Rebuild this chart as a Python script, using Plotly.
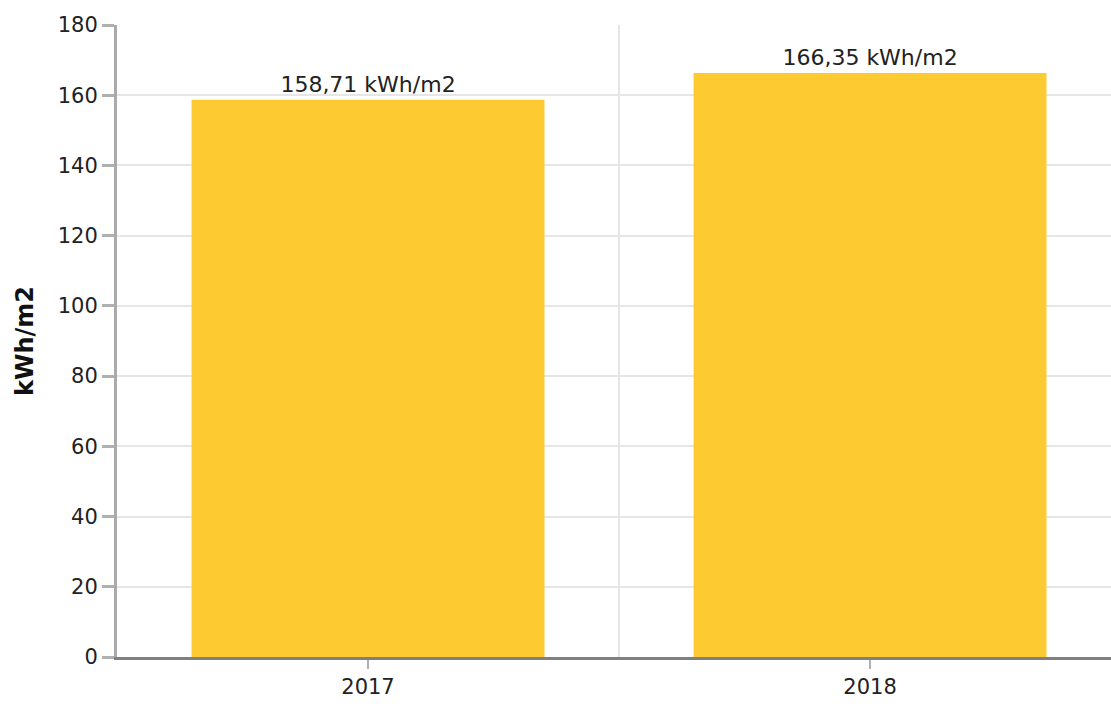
import plotly.graph_objects as go

# data
years = ["2017", "2018"]
consumption = [158.71, 166.35]
unit = "kWh/m2"

FONT = "Verdana, DejaVu Sans, sans-serif"

fig = go.Figure()

fig.add_trace(go.Bar(
    x=years,
    y=consumption,
    width=0.703,
    marker=dict(color="#fdca32", line=dict(width=0)),
    texttemplate="%{y:.2f} " + unit,
    textposition="outside",
    textfont=dict(family=FONT, size=22, color="#222222"),
    cliponaxis=False,
    showlegend=False,
))

# category separator line
fig.add_shape(type="line", xref="x", yref="paper", x0=0.5, x1=0.5, y0=0, y1=1,
              line=dict(color="#e6e6e6", width=2), layer="below")

fig.update_layout(
    width=1111, height=704,
    margin=dict(l=117, r=0, t=25, b=47),
    paper_bgcolor="white",
    plot_bgcolor="white",
    separators=",.",
    font=dict(family=FONT, size=21, color="#222222"),
    xaxis=dict(
        type="category",
        range=[-0.5, 1.48],
        showgrid=False,
        showline=True, linecolor="#808080", linewidth=3,
        ticks="outside", ticklen=9, tickwidth=2, tickcolor="#b0b0b0",
        tickfont=dict(family=FONT, size=21, color="#222222"),
    ),
    yaxis=dict(
        range=[0, 180],
        dtick=20,
        showgrid=True, gridcolor="#e6e6e6", gridwidth=2,
        showline=True, linecolor="#aaaaaa", linewidth=3,
        ticks="outside", ticklen=12, tickwidth=3, tickcolor="#b0b0b0",
        tickfont=dict(family=FONT, size=21, color="#222222"),
        zeroline=False,
        title=dict(text="<b>kWh/m2</b>", font=dict(family=FONT, size=24, color="#111111"), standoff=18),
    ),
)

fig.write_html("out.html", config={"displayModeBar": False},
               post_script="document.body.style.margin='0';document.body.style.overflow='hidden';")
